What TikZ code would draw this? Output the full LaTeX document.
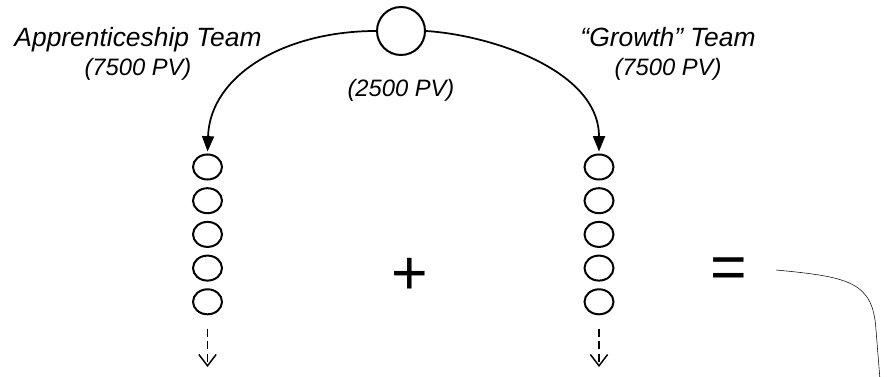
\documentclass[tikz,border=0pt]{standalone}
\usepackage{fontspec}
\setmainfont{Liberation Sans}
\usetikzlibrary{arrows.meta,shapes.geometric}
\newcommand\teamname[1]{{\fontsize{19.8}{21.75}\selectfont #1}}
\tikzset{>=Latex,line width=1.3pt,
  member/.style={draw,ellipse,minimum width=21.75pt,minimum height=18.75pt,inner sep=0pt,line width=1.5pt},
  sponsor/.style={draw,circle,minimum size=36pt,inner sep=0pt,line width=1.5pt},
  teamlabel/.style={font=\itshape\fontsize{17.8}{21.75}\selectfont,align=center},
  opsign/.style={font=\fontsize{47}{50}\selectfont,inner sep=0pt},
  leg/.style={-{Triangle[length=11.5pt,width=9pt]},line width=1.3pt,shorten >=1.5pt},
  more/.style={dash pattern=on 6pt off 3.5pt,line width=1.1pt,-{Straight Barb[length=8.5pt,width=13pt]}}}
\begin{document}
\begin{tikzpicture}[x=0.75pt,y=-0.75pt]
\path[use as bounding box] (0,0) rectangle (887,377);
% sponsor and the two legs
\node[sponsor] (top) at (401,31) {};
\foreach \i in {1,...,5}{\node[member] (l\i) at (207.5,{167+33.7*(\i-1)}) {};
  \node[member] (r\i) at (599,{167+33.7*(\i-1)}) {};}
\draw[leg] (top.west) .. controls (285,31) and (210,75) .. (l1.north);
\draw[leg] (top.east) .. controls (490,35) and (599,70) .. (r1.north);
\coordinate (lend) at (207.5,367);\coordinate (rend) at (599,367);
\draw[more,shorten <=10pt] (l5.south) -- (lend);\draw[more,shorten <=10pt] (r5.south) -- (rend);
% labels
\node[teamlabel] (appr) at (138,54) {\teamname{Apprenticeship Team}\\(7500 PV)};
\node[teamlabel] (grow) at (668,54) {\teamname{``Growth'' Team}\\(7500 PV)};
\node[teamlabel] (own) at (401,90) {(2500 PV)};
\node[opsign] (plus) at (410,276) {+};\node[opsign] (eq) at (729,273) {=};
% sum bracket
\coordinate (sumtop) at (776,270);\coordinate (sumbend) at (876,330);\coordinate (sumend) at (880,380);
\draw (sumtop) .. controls (850,277) and (873,282) .. (sumbend) -- (sumend);
\end{tikzpicture}
\end{document}
